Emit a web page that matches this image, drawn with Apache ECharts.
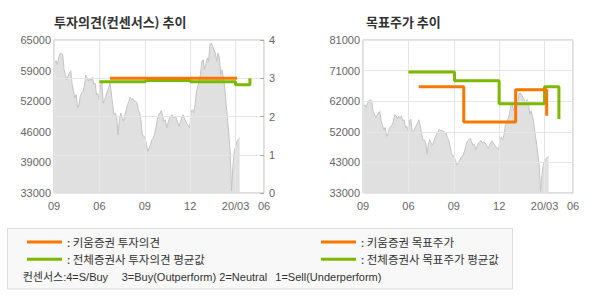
<!DOCTYPE html>
<html>
<head>
<meta charset="utf-8">
<script src="https://cdn.jsdelivr.net/npm/echarts@6/dist/echarts.min.js"></script>
<style>
html,body{margin:0;padding:0;background:#fff;}
#c{width:590px;height:300px;}
</style>
</head>
<body>
<div id="c"></div>
<script>
// ---- data ----
const xTickLabels = ['09', '06', '09', '12', '20/03', '06'];
const opinionTickLabels = ['0', '1', '2', '3', '4'];
const priceTickLabelsLeft = ['33000', '39000', '46000', '52000', '59000', '65000'];
const priceTickLabelsRight = ['33000', '43000', '52000', '62000', '71000', '81000'];

// months since first x tick
const stockStartMonth = 0.04;
const stockEndMonth = 12.27;
const stockPrices = [
  60190, 60670, 59840, 61240, 62070, 62280, 61930, 58790, 57750, 56700,
  57400, 58100, 58580, 55650, 54270, 52870, 53560, 50780, 51470, 53220,
  53910, 54270, 55310, 57610, 57200, 56360, 57050, 56490, 57200, 55650,
  56000, 53560, 53910, 52520, 55650, 56220, 51820, 52520, 53220, 54270,
  54960, 56000, 53910, 51470, 49380,
  49730, 48690, 45190, 48330, 49730, 48690, 47990, 49250, 50420, 51470,
  52180, 53020, 52520, 52730, 52180, 52180, 51820, 50420, 49730, 47990,
  45190, 44860, 44500, 43100, 41720, 42410, 43100, 44150, 44500, 45190,
  46600, 48330, 49380, 49730, 50210, 49040, 47990, 48330, 46600, 47640,
  48690, 49040, 49380, 48690, 49040, 48690,
  47990, 46950, 47640, 48690, 49380, 48690, 47990, 47430, 47150, 46600,
  50090, 50420, 49730, 51470, 54270, 55310, 56360, 57750, 60550, 60880,
  58790, 59840, 61240, 60550, 64020, 64370, 63680, 62970, 62280, 60550,
  62280, 61240, 57750, 58790, 57050, 54960, 51470, 48690, 45190, 41720,
  33500, 38500, 41720, 42770, 43800, 44150, 44500
];

const kiwoomOpinionMonths = [3.7, 12.1];
const kiwoomOpinion = [3, 3];
const consensusOpinionMonths = [3.0, 6.05, 9.0, 12.0, 12.95];
const consensusOpinion = [2.91, 2.94, 2.91, 2.83, 3.0];

const kiwoomTargetMonths = [3.68, 6.66, 10.09, 12.14];
const kiwoomTarget = [66300, 55300, 65400, 57200];
const consensusTargetMonths = [3.0, 6.05, 9.0, 12.0, 12.95];
const consensusTarget = [71000, 68200, 61000, 66300, 56200];

const seriesNames = ['키움증권 투자의견', '전체증권사 투자의견 평균값', '키움증권 목표주가', '전체증권사 목표주가 평균값'];
const titles = ['투자의견(컨센서스) 추이', '목표주가 추이'];
const consensusNote = ['컨센서스:4=S/Buy', '3=Buy(Outperform)', '2=Neutral', '1=Sell(Underperform)'];

// ---- build ----
const ORANGE = '#f77800';
const GREEN = '#7cb800';
const LATIN = '"Liberation Sans", Arial, "Noto Sans CJK KR", sans-serif';
const KR = '"Noto Sans CJK KR", "Liberation Sans", sans-serif';

function pairs(xs, ys) { return xs.map((x, i) => [x, ys[i]]); }
const stockData = stockPrices.map((p, i) => [
  stockStartMonth + i * (stockEndMonth - stockStartMonth) / (stockPrices.length - 1), p
]);

const X_MAX = 13.88;
function xAxis(gridIndex) {
  return {
    type: 'value', gridIndex, min: 0, max: X_MAX, interval: 3,
    axisLine: { show: false }, axisTick: { show: false },
    axisLabel: { color: '#666', fontSize: 11, fontFamily: LATIN, margin: 7,
      formatter: (v, i) => xTickLabels[i] },
    splitLine: { show: true, lineStyle: { color: '#e6e6e6', width: 1 } },
    z: 3
  };
}

const chart = echarts.init(document.getElementById('c'), null, { renderer: 'svg' });
chart.setOption({
  animation: false,
  backgroundColor: '#fff',
  title: [
    { text: titles[0], left: 54, top: 13, padding: 0,
      textStyle: { fontSize: 13, fontWeight: 'bold', color: '#333', fontFamily: KR, lineHeight: 16 } },
    { text: titles[1], left: 366, top: 13, padding: 0,
      textStyle: { fontSize: 13, fontWeight: 'bold', color: '#333', fontFamily: KR, lineHeight: 16 } }
  ],
  grid: [
    { left: 54, top: 40, width: 210, height: 153, show: true, borderColor: '#bbb', borderWidth: 1, backgroundColor: 'transparent' },
    { left: 363, top: 40, width: 210, height: 153, show: true, borderColor: '#bbb', borderWidth: 1, backgroundColor: 'transparent' }
  ],
  xAxis: [xAxis(0), xAxis(1)],
  yAxis: [
    { type: 'value', gridIndex: 0, min: 33000, max: 65000, interval: 6400, position: 'left',
      axisLine: { show: false }, axisTick: { show: false }, splitLine: { show: false },
      axisLabel: { color: '#666', fontSize: 11, fontFamily: LATIN, margin: 3, formatter: (v, i) => priceTickLabelsLeft[i] } },
    { type: 'value', gridIndex: 0, min: 0, max: 4, interval: 1, position: 'right',
      axisLine: { show: false },
      axisTick: { show: true, inside: true, length: 4, lineStyle: { color: '#aaa' } },
      splitLine: { show: true, lineStyle: { color: '#e6e6e6' } },
      axisLabel: { color: '#666', fontSize: 11, fontFamily: LATIN, margin: 5, formatter: (v, i) => opinionTickLabels[i] },
      z: 3 },
    { type: 'value', gridIndex: 1, min: 33000, max: 81000, interval: 9600,
      axisLine: { show: false }, axisTick: { show: false },
      splitLine: { show: true, lineStyle: { color: '#e6e6e6' } },
      axisLabel: { color: '#666', fontSize: 11, fontFamily: LATIN, margin: 3, formatter: (v, i) => priceTickLabelsRight[i] },
      z: 3 }
  ],
  legend: [
    { left: 22, top: 230, orient: 'vertical', icon: 'rect', itemWidth: 35, itemHeight: 3, itemGap: 3.2,
      selectedMode: false, data: [seriesNames[0], seriesNames[1]], formatter: ': {name}',
      textStyle: { fontSize: 11.5, color: '#333', fontFamily: KR, lineHeight: 14 }, z: 10 },
    { left: 316, top: 230, orient: 'vertical', icon: 'rect', itemWidth: 35, itemHeight: 3, itemGap: 3.2,
      selectedMode: false, data: [seriesNames[2], seriesNames[3]], formatter: ': {name}',
      textStyle: { fontSize: 11.5, color: '#333', fontFamily: KR, lineHeight: 14 }, z: 10 }
  ],
  graphic: [
    { type: 'rect', shape: { x: 7.5, y: 228.5, width: 505, height: 60.5 },
      style: { fill: '#f8f8f8', stroke: '#dcdcdc', lineWidth: 1 }, z: 0, silent: true },
    ...[22.7, 121.7, 219.3, 275.3].map((x, i) => ({
      type: 'text', x: x, y: 277.3, z: 5, silent: true,
      style: { text: consensusNote[i], fill: '#333', font: '11px ' + LATIN, textVerticalAlign: 'middle' }
    }))
  ],
  series: [
    { type: 'line', xAxisIndex: 0, yAxisIndex: 0, data: stockData, showSymbol: false, z: 1,
      lineStyle: { color: '#c4c4c4', width: 1 }, areaStyle: { color: '#e0e0e0', origin: 'start', opacity: 1 },
      silent: true },
    { name: seriesNames[1], type: 'line', xAxisIndex: 0, yAxisIndex: 1, step: 'end',
      data: pairs(consensusOpinionMonths, consensusOpinion), showSymbol: false, z: 5,
      itemStyle: { color: GREEN }, lineStyle: { color: GREEN, width: 3 } },
    { name: seriesNames[0], type: 'line', xAxisIndex: 0, yAxisIndex: 1, step: 'end',
      data: pairs(kiwoomOpinionMonths, kiwoomOpinion), showSymbol: false, z: 6,
      itemStyle: { color: ORANGE }, lineStyle: { color: ORANGE, width: 3 } },
    { type: 'line', xAxisIndex: 1, yAxisIndex: 2, data: stockData, showSymbol: false, z: 1,
      lineStyle: { color: '#c4c4c4', width: 1 }, areaStyle: { color: '#e0e0e0', origin: 'start', opacity: 1 },
      silent: true },
    { name: seriesNames[3], type: 'line', xAxisIndex: 1, yAxisIndex: 2, step: 'end',
      data: pairs(consensusTargetMonths, consensusTarget), showSymbol: false, z: 5,
      itemStyle: { color: GREEN }, lineStyle: { color: GREEN, width: 3 } },
    { name: seriesNames[2], type: 'line', xAxisIndex: 1, yAxisIndex: 2, step: 'end',
      data: pairs(kiwoomTargetMonths, kiwoomTarget), showSymbol: false, z: 6,
      itemStyle: { color: ORANGE }, lineStyle: { color: ORANGE, width: 3 } }
  ]
});
</script>
</body>
</html>
